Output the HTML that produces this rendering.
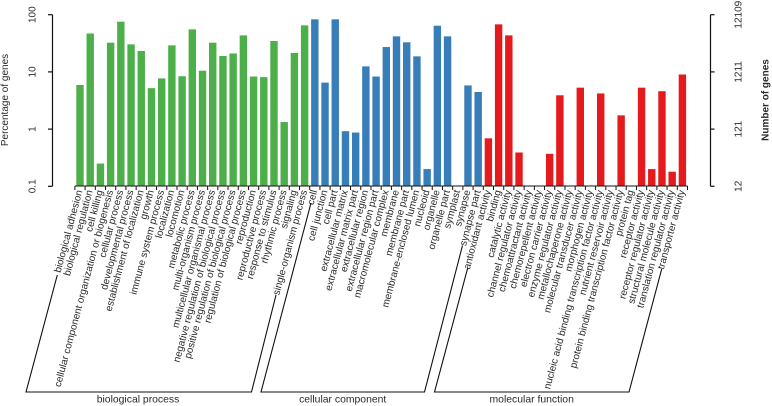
<!DOCTYPE html>
<html>
<head>
<meta charset="utf-8">
<style>
html,body{margin:0;padding:0;background:#fff;}
svg{display:block;}
text{font-family:"Liberation Sans",Arial,sans-serif;font-size:10px;fill:#2a2a2a;}
</style>
</head>
<body>
<svg id="chart" width="772" height="406" viewBox="0 0 772 406" xmlns="http://www.w3.org/2000/svg"></svg>
<script>
const categories = ["biological adhesion","biological regulation","cell killing","cellular component organization or biogenesis","cellular process","developmental process","establishment of localization","growth","immune system process","localization","locomotion","metabolic process","multi-organism process","multicellular organismal process","negative regulation of biological process","positive regulation of biological process","regulation of biological process","reproduction","reproductive process","response to stimulus","rhythmic process","signaling","single-organism process","cell","cell junction","cell part","extracellular matrix","extracellular matrix part","extracellular region","extracellular region part","macromolecular complex","membrane","membrane part","membrane-enclosed lumen","nucleoid","organelle","organelle part","symplast","synapse","synapse part","antioxidant activity","binding","catalytic activity","channel regulator activity","chemoattractant activity","chemorepellent activity","electron carrier activity","enzyme regulator activity","metallochaperone activity","molecular transducer activity","morphogen activity","nucleic acid binding transcription factor activity","nutrient reservoir activity","protein binding transcription factor activity","protein tag","receptor activity","receptor regulator activity","structural molecule activity","translation regulator activity","transporter activity"];
const percentValues = [5.9,47,0.25,32.4,75.5,30.3,23.2,5.2,7.7,29.1,8.4,55.4,10.5,32.4,19,21,43.5,8.3,8.1,34.7,1.33,21.4,65,83,6.5,83,0.92,0.87,12.5,8.3,27.2,41.8,32.9,18.7,0.2,64.2,41.8,0,5.8,4.46,0.69,67.8,43.5,0.39,0,0,0.37,3.9,0,5.3,0,4.2,0,1.74,0,5.3,0.2,4.6,0.18,9];
const groupNames = ["biological process","cellular component","molecular function"];
const groupSizes = [23,17,20];
const groupColors = ["#4daf4a","#377eb8","#e41a1c"];
const leftTicks = [100,10,1,0.1];
const leftTickLabels = ["100","10","1","0.1"];
const rightTickLabels = ["12109","1211","121","12"];

const NS = "http://www.w3.org/2000/svg";
const svg = document.getElementById("chart");
const Y_TOP = 14.7, DECADE = 57.2, X0 = 80, PITCH = 10.21, BASE = 186;
function yScale(v){ return Y_TOP + (2 - Math.log10(v)) * DECADE; }
function xScale(i){ return X0 + i * PITCH; }
function make(tag, attrs, parent){
  const el = document.createElementNS(NS, tag);
  for (const k in attrs) el.setAttribute(k, attrs[k]);
  (parent || svg).appendChild(el);
  return el;
}
function groupOf(i){
  let s = 0;
  for (let g = 0; g < groupSizes.length; g++){ s += groupSizes[g]; if (i < s) return g; }
  return groupSizes.length - 1;
}

// bars
const barLayer = make("g", {});


percentValues.forEach(function(v, i){
  if (!(v > 0)) return;
  const top = yScale(v);
  const r = make("rect", {x: xScale(i) - 3.7, y: top, width: 7.4, height: BASE - top, fill: groupColors[groupOf(i)]}, barLayer);
  
  
});

// left axis
const leftAxis = make("g", {stroke: "#111", "stroke-width": 1.2, fill: "none"});


make("line", {x1: 52.5, x2: 52.5, y1: yScale(100), y2: yScale(0.1)}, leftAxis);
leftTicks.forEach(function(t, i){
  const y = yScale(t);
  make("line", {x1: 48, x2: 52.5, y1: y, y2: y}, leftAxis);
  const lb = make("text", {transform: "translate(35.5," + y + ") rotate(-90)", "text-anchor": "middle", stroke: "none"}, svg);
  lb.textContent = leftTickLabels[i];
  
  
});

// right axis
const rightAxis = make("g", {stroke: "#111", "stroke-width": 1.2, fill: "none"});


make("line", {x1: 710.5, x2: 710.5, y1: yScale(100), y2: yScale(0.1)}, rightAxis);
leftTicks.forEach(function(t, i){
  const y = yScale(t);
  make("line", {x1: 710.5, x2: 714.5, y1: y, y2: y}, rightAxis);
  const lb = make("text", {transform: "translate(741.5," + y + ") rotate(-90)", "text-anchor": "middle", stroke: "none"}, svg);
  lb.textContent = rightTickLabels[i];
  
  
});

// axis titles
const leftTitle = make("text", {transform: "translate(8,100) rotate(-90)", "text-anchor": "middle"});
leftTitle.textContent = "Percentage of genes";


const rightTitle = make("text", {transform: "translate(768.5,100) rotate(-90)", "text-anchor": "middle"});
rightTitle.style.fontWeight = "bold";
rightTitle.textContent = "Number of genes";



// x axis with ticks at bar edges
const xAxis = make("g", {stroke: "#111", "stroke-width": 1, fill: "none"});


make("line", {x1: xScale(0) - PITCH / 2, x2: xScale(categories.length - 1) + PITCH / 2, y1: BASE, y2: BASE}, xAxis);
for (let i = 0; i <= categories.length; i++){
  const x = xScale(i) - PITCH / 2;
  make("line", {x1: x, x2: x, y1: BASE, y2: BASE + 4}, xAxis);
}

// rotated category labels
categories.forEach(function(c, i){
  const t = make("text", {transform: "translate(" + (xScale(i) + 2.5) + ",191) rotate(-75)", "text-anchor": "end"});
  t.textContent = c;
  
  
});

// group brackets
const bracketPaths = ["M57.3 275 L26 392 L251.5 392 L276 295","M311 203 L261 392 L424.5 392 L462.5 245.5","M467.7 268 L434.5 392 L629 392 L661.7 269"];
const groupLabelX = [138, 342.7, 531.7];
groupNames.forEach(function(name, g){
  const p = make("path", {d: bracketPaths[g], fill: "none", stroke: "#111", "stroke-width": 1.1});
  
  
  const t = make("text", {x: groupLabelX[g], y: 402.5, "text-anchor": "middle"});
  t.style.fontSize = "10.4px";
  t.textContent = name;
  
  
});
</script>
</body>
</html>
